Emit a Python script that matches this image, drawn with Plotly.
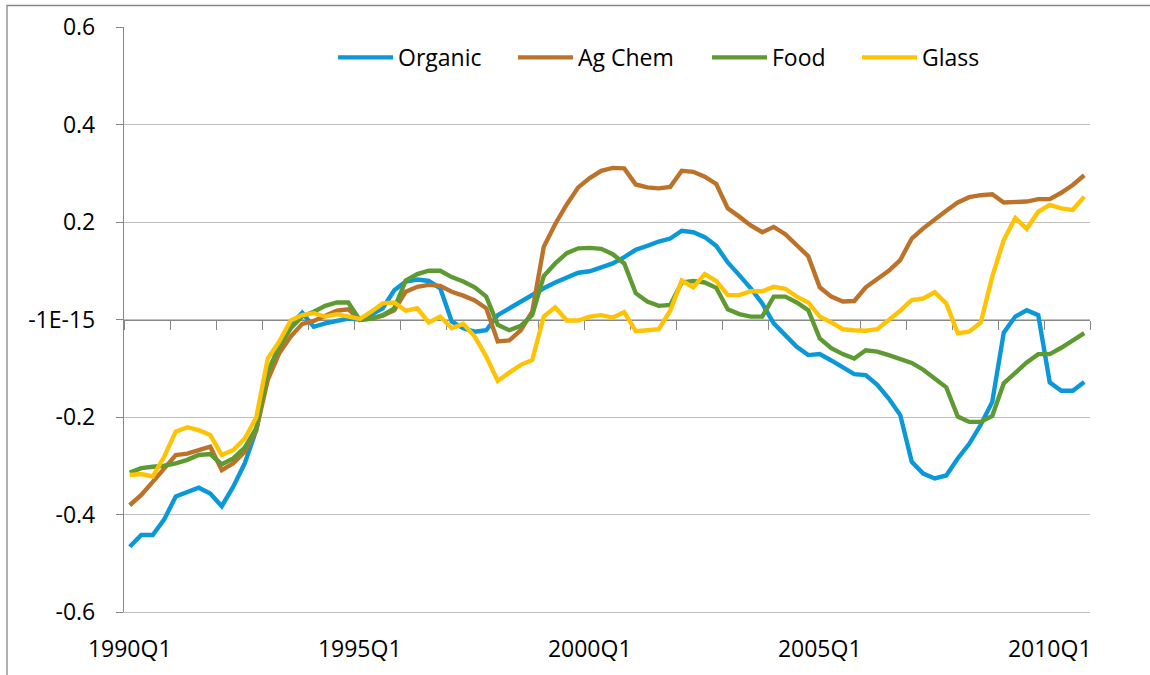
import plotly.graph_objects as go

# Quarterly periods 1990Q1 .. 2010Q4
quarters = [f"{y}Q{q}" for y in range(1990, 2011) for q in range(1, 5)]

organic = [-0.466, -0.442, -0.442, -0.410, -0.363, -0.353, -0.345, -0.357, -0.383, -0.343,
           -0.295, -0.227, -0.110, -0.055, -0.010, 0.014, -0.015, -0.008, -0.002, 0.002,
           0.000, 0.010, 0.023, 0.060, 0.078, 0.082, 0.079, 0.064, -0.004, -0.018,
           -0.025, -0.022, 0.009, 0.023, 0.037, 0.049, 0.064, 0.076, 0.087, 0.096,
           0.099, 0.107, 0.115, 0.128, 0.143, 0.151, 0.160, 0.166, 0.182, 0.179,
           0.169, 0.151, 0.117, 0.091, 0.064, 0.033, -0.008, -0.032, -0.056, -0.073,
           -0.071, -0.084, -0.097, -0.112, -0.114, -0.134, -0.162, -0.196, -0.292, -0.316,
           -0.326, -0.320, -0.285, -0.255, -0.216, -0.169, -0.027, 0.006, 0.019, 0.009,
           -0.129, -0.146, -0.146, -0.128]

ag_chem = [-0.381, -0.360, -0.333, -0.305, -0.278, -0.275, -0.269, -0.261, -0.309, -0.295,
           -0.271, -0.227, -0.124, -0.069, -0.035, -0.009, -0.003, 0.008, 0.018, 0.021,
           -0.001, 0.002, 0.008, 0.019, 0.057, 0.067, 0.071, 0.069, 0.057, 0.049,
           0.039, 0.023, -0.045, -0.043, -0.022, 0.016, 0.149, 0.196, 0.236, 0.271,
           0.290, 0.305, 0.311, 0.310, 0.277, 0.271, 0.269, 0.272, 0.305, 0.303,
           0.293, 0.278, 0.228, 0.211, 0.193, 0.179, 0.190, 0.175, 0.154, 0.130,
           0.066, 0.047, 0.037, 0.038, 0.066, 0.082, 0.100, 0.122, 0.166, 0.187,
           0.206, 0.223, 0.240, 0.251, 0.255, 0.257, 0.240, 0.240, 0.242, 0.247,
           0.247, 0.260, 0.276, 0.296]

food = [-0.314, -0.305, -0.302, -0.300, -0.295, -0.288, -0.278, -0.276, -0.297, -0.285,
        -0.263, -0.223, -0.107, -0.056, -0.018, 0.006, 0.016, 0.028, 0.035, 0.035,
        -0.001, 0.002, 0.009, 0.023, 0.080, 0.093, 0.100, 0.100, 0.087, 0.078,
        0.066, 0.047, -0.011, -0.022, -0.013, 0.009, 0.089, 0.115, 0.136, 0.146,
        0.147, 0.145, 0.134, 0.115, 0.054, 0.037, 0.028, 0.030, 0.076, 0.079,
        0.076, 0.065, 0.021, 0.011, 0.006, 0.006, 0.047, 0.047, 0.035, 0.019,
        -0.039, -0.059, -0.071, -0.080, -0.063, -0.066, -0.073, -0.082, -0.089, -0.103,
        -0.121, -0.139, -0.199, -0.210, -0.210, -0.198, -0.131, -0.109, -0.088, -0.071,
        -0.071, -0.058, -0.043, -0.028]

glass = [-0.319, -0.317, -0.322, -0.281, -0.230, -0.221, -0.227, -0.237, -0.278, -0.268,
         -0.244, -0.201, -0.080, -0.045, -0.002, 0.009, 0.013, 0.006, 0.011, 0.007,
         0.001, 0.016, 0.033, 0.035, 0.018, 0.023, -0.006, 0.006, -0.018, -0.009,
         -0.035, -0.076, -0.126, -0.109, -0.093, -0.083, 0.006, 0.025, -0.002, -0.002,
         0.006, 0.009, 0.004, 0.015, -0.024, -0.022, -0.020, 0.018, 0.080, 0.066,
         0.093, 0.079, 0.050, 0.050, 0.058, 0.058, 0.067, 0.063, 0.047, 0.035,
         0.006, -0.006, -0.020, -0.022, -0.023, -0.020, -0.001, 0.018, 0.040, 0.043,
         0.056, 0.033, -0.028, -0.025, -0.006, 0.088, 0.163, 0.208, 0.186, 0.221,
         0.235, 0.228, 0.225, 0.252]

series_names = ["Organic", "Ag Chem", "Food", "Glass"]
series_values = [organic, ag_chem, food, glass]
series_colors = ["#0A98D8", "#BC7329", "#5E9A32", "#FFC305"]
# first three share the zero-crossing axis, the last one sits on the labelled bottom axis
series_xaxes = ["x", "x", "x", "x2"]
legend_ids = ["legend", "legend2", "legend3", "legend4"]
legend_x = [0.2164, 0.4027, 0.6035, 0.7588]

y_tick_vals = [-0.6, -0.4, -0.2, 0.0, 0.2, 0.4, 0.6]
y_tick_text = ["-0.6", "-0.4", "-0.2", "-1E-15", "0.2", "0.4", "0.6"]
x_label_every = 20      # one label per five years
x_tick_every = 4        # one tick mark per year

FONT = "Open Sans"
FSIZE = 23
AXIS_GREY = "#878787"
GRID_GREY = "#C0C0C0"

idx = list(range(len(quarters)))
x_range = [-0.5, len(quarters) - 0.5]

fig = go.Figure()
for name, vals, col, xa, lg in zip(series_names, series_values, series_colors,
                                   series_xaxes, legend_ids):
    fig.add_trace(go.Scatter(
        x=idx, y=vals, name=name, mode="lines",
        line=dict(color=col, width=4.4),
        xaxis=xa, yaxis="y", legend=lg,
    ))

legend_style = dict(
    orientation="h", y=0.948, xanchor="left", yanchor="middle",
    font=dict(family=FONT, size=FSIZE, color="black"),
    bgcolor="rgba(0,0,0,0)", itemwidth=55, borderwidth=0,
)

fig.update_layout(
    width=1150, height=675,
    margin=dict(l=124, r=60, t=27, b=63),
    paper_bgcolor="white", plot_bgcolor="white",
    font=dict(family=FONT, size=FSIZE, color="black"),
    showlegend=True,
    legend=dict(x=legend_x[0], **legend_style),
    legend2=dict(x=legend_x[1], **legend_style),
    legend3=dict(x=legend_x[2], **legend_style),
    legend4=dict(x=legend_x[3], **legend_style),
    # category axis crossing the value axis at zero, with yearly tick marks
    xaxis=dict(
        range=x_range, anchor="free", position=0.5,
        tickmode="array",
        tickvals=[i - 0.5 for i in range(0, len(quarters) + 1, x_tick_every)],
        showticklabels=False, ticks="outside", ticklen=9, tickwidth=1.3,
        tickcolor=AXIS_GREY, showline=True, linecolor=AXIS_GREY, linewidth=1.3,
        showgrid=False, zeroline=False, layer="below traces", automargin=False,
    ),
    # period labels along the bottom edge
    xaxis2=dict(
        range=x_range, overlaying="x", anchor="y", side="bottom",
        tickmode="array",
        tickvals=idx[::x_label_every],
        ticktext=quarters[::x_label_every],
        ticks="", showline=True, linecolor=GRID_GREY, linewidth=1.3,
        showgrid=False, zeroline=False, automargin=False,
        ticklabelstandoff=16,
        tickfont=dict(family=FONT, size=FSIZE, color="black"),
    ),
    yaxis=dict(
        range=[-0.6, 0.6], tickmode="array",
        tickvals=y_tick_vals, ticktext=y_tick_text,
        ticks="outside", ticklen=7, tickwidth=1.3, tickcolor=AXIS_GREY,
        showline=True, linecolor=AXIS_GREY, linewidth=1.3,
        showgrid=True, gridcolor=GRID_GREY, gridwidth=1.3,
        zeroline=False, ticklabelstandoff=16, automargin=False,
        tickfont=dict(family=FONT, size=FSIZE, color="black"),
    ),
)

# chart-area border
fig.add_shape(type="rect", xref="paper", yref="paper",
              x0=(7 - 124) / 966, x1=(1200 - 124) / 966,
              y0=(612 - 720) / 585, y1=(612 - 5.5) / 585,
              line=dict(color=AXIS_GREY, width=1.3), fillcolor="rgba(0,0,0,0)",
              layer="below")

fig.write_html("out.html")
